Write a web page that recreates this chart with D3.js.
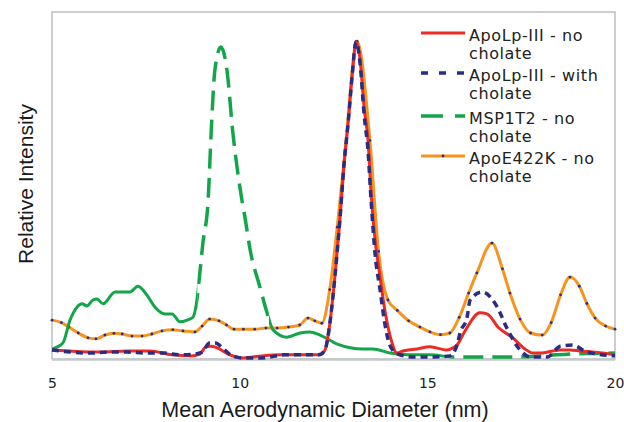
<!DOCTYPE html>
<html><head><meta charset="utf-8">
<script src="https://cdn.jsdelivr.net/npm/d3@7"></script>
<style>html,body{margin:0;padding:0;background:#fff;}svg{display:block;}</style>
</head><body>
<svg id="chart" width="624" height="422"></svg>
<script>
// ---- data ----
const xTicks = [5, 10, 15, 20];
const seriesNames = ["ApoLp-III - no cholate", "ApoLp-III - with cholate", "MSP1T2 - no cholate", "ApoE422K - no cholate"];

const apoLpNoX = [5.0,5.48,6.28,7.0,7.6,8.2,8.7,8.94,9.1,9.24,9.4,9.74,10.09,10.6,11.08,11.6,12.14,12.27,12.4,12.54,12.67,12.78,12.89,13.0,13.1,13.2,13.32,13.42,13.5,13.61,13.71,13.87,14.05,14.19,14.35,14.73,15.07,15.52,15.68,15.79,16.0,16.4,16.59,16.9,17.28,17.6,17.82,18.0,18.54,18.8,19.07,19.42,20.0];
const apoLpNoY = [2.6,2.3,2.0,2.3,2.3,1.2,0.9,1.4,3.5,3.7,3.2,1.2,0.3,0.9,1.2,1.2,1.2,2.5,10,24,40,56,68,82,91.4,87,72,63,48,34,26,14,5,1.7,2.3,2.9,3.5,2.6,3.2,4.0,8,13.3,13.0,9,6.1,2.9,1.7,1.7,2.6,2.6,2.3,2.0,1.2];

const apoLpWithX = [5.0,5.5,6.0,6.5,7.0,7.5,8.0,8.4,8.8,9.0,9.2,9.35,9.6,9.8,10.1,10.6,11.2,11.6,12.1,12.27,12.4,12.54,12.67,12.78,12.89,13.0,13.1,13.2,13.32,13.42,13.5,13.61,13.74,13.87,14.0,14.2,14.62,15.15,15.6,15.79,15.87,16.06,16.14,16.46,16.86,17.12,17.47,17.74,18.2,18.54,18.86,19.26,20.0];
const apoLpWithY = [2.6,2.0,1.7,2.0,2.0,1.7,1.7,1.2,1.4,2.0,4.6,4.6,2.6,0.9,0.3,0.3,1.2,1.2,1.2,2.5,10,24,40,56,68,82,91.4,86,70,60,46,30,20,10,4,1.5,0.6,0.6,0.9,4,7.5,12.1,17.0,19.3,15.0,8.9,2.6,0.6,0.6,3.7,4.0,2.0,0.9];

const msp1t2X = [5.0,5.29,5.48,5.67,5.80,5.93,6.09,6.20,6.36,6.68,7.08,7.29,7.53,7.74,8.01,8.20,8.41,8.60,8.76,8.86,8.92,9.02,9.16,9.24,9.34,9.50,9.66,9.82,10.06,10.14,10.28,10.54,10.73,10.89,11.26,11.61,11.87,12.14,12.6,13.29,13.55,14.01,14.5,15.07,15.68,16.5,17.39,18.0,18.72,20.0];
const msp1t2Y = [2.9,4.6,11.2,15.0,15.9,15.3,17.0,17.3,15.9,19.3,19.3,21.0,18.4,15.0,13.0,13.0,10.7,11.2,12.1,17.0,22.8,33.4,45.8,65.1,83.3,89.9,83.3,65.1,45.8,40.9,31.4,20.7,13.3,8.4,6.3,7.5,7.8,6.9,4.3,2.9,2.9,1.7,1.2,1.2,0.6,0.6,0.6,0.9,1.4,1.7];

const apoENoX = [5.0,5.25,5.45,5.7,5.96,6.17,6.41,6.65,6.87,7.13,7.40,7.66,7.93,8.22,8.49,8.81,9.0,9.2,9.45,9.65,9.85,10.1,10.4,10.7,11.0,11.3,11.6,11.82,12.0,12.19,12.4,12.6,12.81,13.13,13.47,13.7,13.95,14.2,14.5,14.8,15.07,15.35,15.6,15.85,16.1,16.32,16.72,17.0,17.2,17.47,17.75,18.06,18.3,18.55,18.8,19.05,19.25,19.47,19.75,20.0];
const apoENoY = [11.2,10.5,9.2,7.5,6.1,5.8,6.9,7.4,7.2,6.6,6.6,7.2,8.1,8.4,8.1,7.8,9.5,11.5,11.0,9.8,8.6,8.6,8.6,8.9,8.9,9.2,9.8,11.8,11.0,10.3,20,38,60,91.6,63,31,17,14,11,9.2,7.8,7.0,7.5,12,19,24.8,33.4,26,19,11.5,7.5,6.9,10.5,18.5,23.6,21,16,11.8,9.5,8.6];

// ---- layout ----
const svg = d3.select("#chart");
const L = 52, R = 615, T = 12, B = 359;
const x = d3.scaleLinear().domain([5, 20]).range([L, R]);
const y = d3.scaleLinear().domain([0, 100]).range([B, T]);

svg.append("rect").attr("width", 624).attr("height", 422).attr("fill", "#fff");

// frame
svg.append("rect").attr("x", L).attr("y", T).attr("width", R - L).attr("height", B - T)
  .attr("fill", "none").attr("stroke", "#a9b0b3").attr("stroke-width", 1.2);
svg.append("line").attr("x1", L).attr("x2", R).attr("y1", B + 0.5).attr("y2", B + 0.5)
  .attr("stroke", "#c4c8ca").attr("stroke-width", 2.5);

// x axis labels via d3 axis
const xAxis = d3.axisBottom(x).tickValues(xTicks).tickSize(0).tickPadding(0).tickFormat(d3.format("d"));
const gx = svg.append("g").attr("transform", `translate(0,${B})`).call(xAxis);
gx.select(".domain").remove();
gx.selectAll("text").attr("font-family", "DejaVu Sans, Verdana, sans-serif").attr("font-size", 14)
  .attr("fill", "#222").attr("dy", null).attr("y", 29);

// axis titles
svg.append("text").attr("x", 325).attr("y", 417).attr("text-anchor", "middle")
  .attr("font-family", "Liberation Sans, Arial, sans-serif").attr("font-size", 21.5).attr("fill", "#1a1a1a")
  .text("Mean Aerodynamic Diameter (nm)");
svg.append("text").attr("transform", "translate(32.5,184) rotate(-90)").attr("text-anchor", "middle")
  .attr("font-family", "Liberation Sans, Arial, sans-serif").attr("font-size", 21).attr("fill", "#1a1a1a")
  .text("Relative Intensity");

// colours
const cRed = "#ee2a24", cNavy = "#2b2d84", cGreen = "#12a54a", cOrange = "#f7941e";

const line = d3.line().x(d => x(d[0])).y(d => y(d[1])).curve(d3.curveMonotoneX);
const zip = (xs, ys) => xs.map((v, i) => [v, ys[i]]);

const defs = svg.append("defs");
function clip(id, ranges) {
  const cp = defs.append("clipPath").attr("id", id);
  ranges.forEach(r => cp.append("rect").attr("x", x(r[0])).attr("y", 0).attr("width", x(r[1]) - x(r[0])).attr("height", 422));
}
clip("gSolid", [[5, 8.87], [10.78, 15.65]]);
clip("gDash", [[8.87, 10.78], [15.65, 20.05]]);

const gPlot = svg.append("g");

// orange
const oData = zip(apoENoX, apoENoY);
gPlot.append("path").attr("d", line(oData)).attr("fill", "none").attr("stroke", cOrange).attr("stroke-width", 3);
gPlot.selectAll("circle.om").data(oData).enter().append("circle").attr("class", "om")
  .attr("cx", d => x(d[0])).attr("cy", d => y(d[1])).attr("r", 1.4).attr("fill", cNavy);

// green
const gData = zip(msp1t2X, msp1t2Y);
gPlot.append("path").attr("d", line(gData)).attr("fill", "none").attr("stroke", cGreen).attr("stroke-width", 3)
  .attr("clip-path", "url(#gSolid)");
gPlot.append("path").attr("d", line(gData)).attr("fill", "none").attr("stroke", cGreen).attr("stroke-width", 3.5)
  .attr("stroke-dasharray", "20,9").attr("clip-path", "url(#gDash)");

// red
gPlot.append("path").attr("d", line(zip(apoLpNoX, apoLpNoY))).attr("fill", "none").attr("stroke", cRed).attr("stroke-width", 3);

// navy dashed
gPlot.append("path").attr("d", line(zip(apoLpWithX, apoLpWithY))).attr("fill", "none").attr("stroke", cNavy)
  .attr("stroke-width", 3.5).attr("stroke-dasharray", "7,5");

// legend
const leg = svg.append("g").attr("font-family", "DejaVu Sans, Verdana, sans-serif").attr("font-size", 16)
  .attr("letter-spacing", 0.6).attr("fill", "#222");
const legRows = [33, 73, 116, 156];
const legStyle = [
  {c: cRed, w: 3, dash: null},
  {c: cNavy, w: 3.5, dash: "7,11"},
  {c: cGreen, w: 3.5, dash: "22,12"},
  {c: cOrange, w: 3, dash: null}
];
seriesNames.forEach((name, i) => {
  const yy = legRows[i];
  const st = legStyle[i];
  const ln = leg.append("line").attr("x1", 421).attr("x2", 465).attr("y1", yy).attr("y2", yy)
    .attr("stroke", st.c).attr("stroke-width", st.w);
  if (st.dash) ln.attr("stroke-dasharray", st.dash);
  if (i === 3) leg.append("circle").attr("cx", 443).attr("cy", yy).attr("r", 1.4).attr("fill", cNavy);
  const parts = name.split(" cholate");
  leg.append("text").attr("x", 469).attr("y", yy + 8).text(parts[0]);
  leg.append("text").attr("x", 469).attr("y", yy + 26).text("cholate");
});
</script>
</body></html>
